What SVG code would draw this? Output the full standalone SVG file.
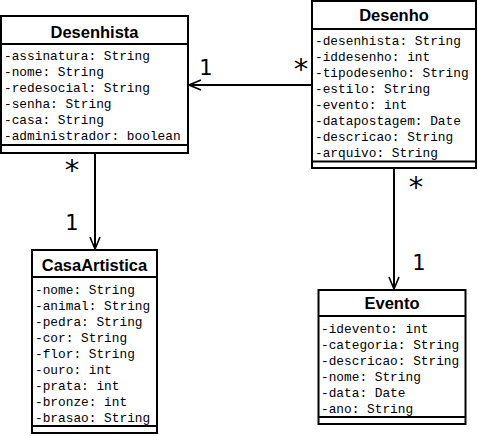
<svg xmlns="http://www.w3.org/2000/svg" width="478" height="436" viewBox="0 0 478 436">
<style>
.box{fill:#fff;stroke:#000;stroke-width:2}
.sep{stroke:#000;stroke-width:2}
.title{font-family:"Liberation Sans",Arial,sans-serif;font-weight:bold;font-size:16.5px;text-anchor:middle;fill:#000}
.attr{font-family:"Liberation Mono","Courier New",monospace;font-size:12.8px;fill:#000}
.lbl{font-family:"DejaVu Sans","Liberation Sans",sans-serif;font-size:21px;text-anchor:middle;fill:#000}
.star{font-family:"DejaVu Sans","Liberation Sans",sans-serif;font-size:29px;text-anchor:middle;fill:#000}
.conn{stroke:#000;stroke-width:2;fill:none}
</style>
<defs>
<marker id="open" viewBox="0 0 14 12" refX="13" refY="6" markerWidth="14" markerHeight="12" markerUnits="userSpaceOnUse" orient="auto">
<path d="M1,1 L13,6 L1,11" fill="none" stroke="#000" stroke-width="1.6"/>
</marker>
</defs>
<g id="connectors">
<line class="conn" x1="312" y1="85" x2="189" y2="85" marker-end="url(#open)"/>
<line class="conn" x1="95" y1="153" x2="95" y2="249" marker-end="url(#open)"/>
<line class="conn" x1="394" y1="168" x2="394" y2="289" marker-end="url(#open)"/>
<text class="lbl" x="206" y="75">1</text>
<text class="star" x="301" y="79">*</text>
<text class="star" x="72" y="180">*</text>
<text class="lbl" x="72" y="230">1</text>
<text class="star" x="416" y="197">*</text>
<text class="lbl" x="419" y="270">1</text>
</g>
<g id="Desenhista">
<rect class="box" x="1" y="16" width="187" height="137"/>
<line class="sep" x1="1" y1="44" x2="188" y2="44"/>
<line class="sep" x1="1" y1="145" x2="188" y2="145"/>
<text class="title" x="94.5" y="37.5">Desenhista</text>
<text class="attr" x="4" y="60">-assinatura: String</text>
<text class="attr" x="4" y="76">-nome: String</text>
<text class="attr" x="4" y="92">-redesocial: String</text>
<text class="attr" x="4" y="108">-senha: String</text>
<text class="attr" x="4" y="124">-casa: String</text>
<text class="attr" x="4" y="140">-administrador: boolean</text>
</g>
<g id="Desenho">
<rect class="box" x="312" y="1" width="164" height="167"/>
<line class="sep" x1="312" y1="29" x2="476" y2="29"/>
<line class="sep" x1="312" y1="161.5" x2="476" y2="161.5"/>
<text class="title" x="394" y="21">Desenho</text>
<text class="attr" x="315" y="45">-desenhista: String</text>
<text class="attr" x="315" y="61">-iddesenho: int</text>
<text class="attr" x="315" y="77">-tipodesenho: String</text>
<text class="attr" x="315" y="93">-estilo: String</text>
<text class="attr" x="315" y="109">-evento: int</text>
<text class="attr" x="315" y="125">-datapostagem: Date</text>
<text class="attr" x="315" y="141">-descricao: String</text>
<text class="attr" x="315" y="157">-arquivo: String</text>
</g>
<g id="CasaArtistica">
<rect class="box" x="32" y="250" width="125" height="183"/>
<line class="sep" x1="32" y1="277" x2="157" y2="277"/>
<line class="sep" x1="32" y1="426" x2="157" y2="426"/>
<text class="title" x="94.5" y="271">CasaArtistica</text>
<text class="attr" x="35" y="294">-nome: String</text>
<text class="attr" x="35" y="310">-animal: String</text>
<text class="attr" x="35" y="326">-pedra: String</text>
<text class="attr" x="35" y="342">-cor: String</text>
<text class="attr" x="35" y="358">-flor: String</text>
<text class="attr" x="35" y="374">-ouro: int</text>
<text class="attr" x="35" y="390">-prata: int</text>
<text class="attr" x="35" y="406">-bronze: int</text>
<text class="attr" x="35" y="422">-brasao: String</text>
</g>
<g id="Evento">
<rect class="box" x="318.5" y="290" width="147" height="134"/>
<line class="sep" x1="318.5" y1="316" x2="465.5" y2="316"/>
<line class="sep" x1="318.5" y1="417" x2="465.5" y2="417"/>
<text class="title" x="392" y="309">Evento</text>
<text class="attr" x="321" y="333">-idevento: int</text>
<text class="attr" x="321" y="349">-categoria: String</text>
<text class="attr" x="321" y="365">-descricao: String</text>
<text class="attr" x="321" y="381">-nome: String</text>
<text class="attr" x="321" y="397">-data: Date</text>
<text class="attr" x="321" y="413">-ano: String</text>
</g>
</svg>
